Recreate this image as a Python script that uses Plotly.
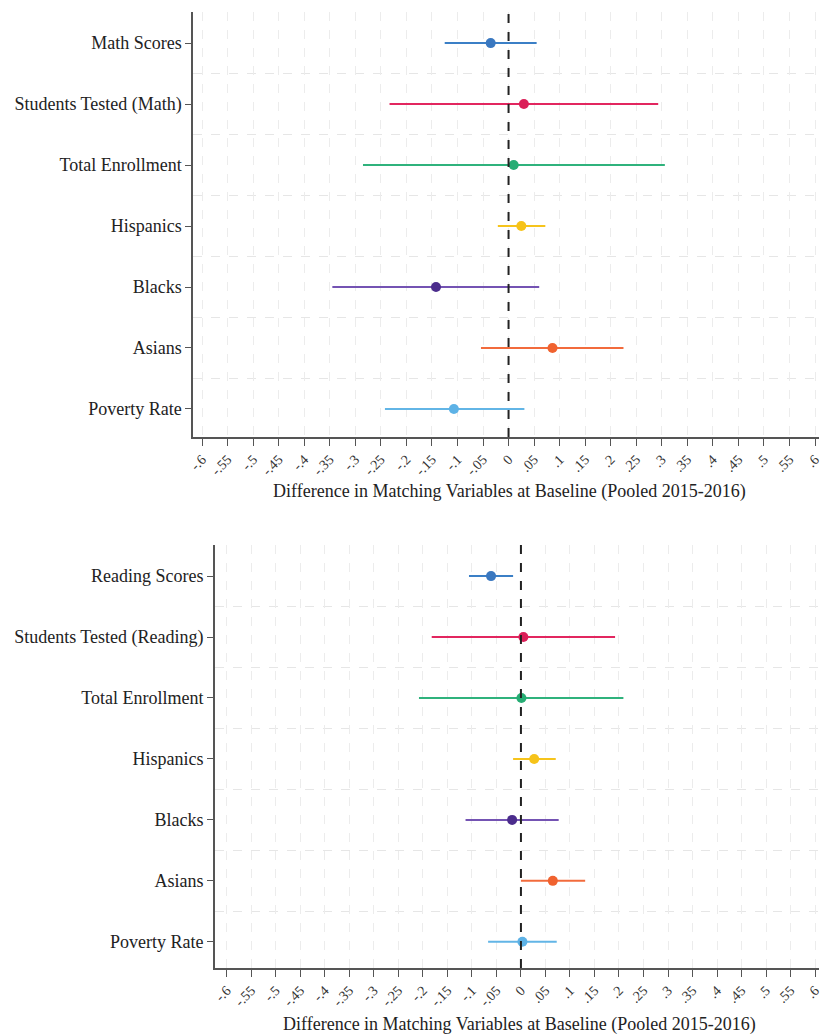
import plotly.graph_objects as go

# Matching-variable balance at baseline (pooled 2015-2016): point estimate and 95% CI
math_labels = ["Math Scores", "Students Tested (Math)", "Total Enrollment",
               "Hispanics", "Blacks", "Asians", "Poverty Rate"]
math_est = [-0.035, 0.030, 0.010, 0.025, -0.142, 0.086, -0.107]
math_lo = [-0.125, -0.233, -0.285, -0.021, -0.345, -0.054, -0.242]
math_hi = [0.055, 0.293, 0.306, 0.072, 0.060, 0.225, 0.031]

read_labels = ["Reading Scores", "Students Tested (Reading)", "Total Enrollment",
               "Hispanics", "Blacks", "Asians", "Poverty Rate"]
read_est = [-0.061, 0.005, 0.001, 0.027, -0.018, 0.065, 0.003]
read_lo = [-0.106, -0.182, -0.208, -0.016, -0.113, 0.000, -0.067]
read_hi = [-0.016, 0.192, 0.209, 0.071, 0.077, 0.131, 0.073]

x_ticks = [round(-0.6 + 0.05 * i, 2) for i in range(25)]
x_ticktext = ["-.6", "-.55", "-.5", "-.45", "-.4", "-.35", "-.3", "-.25", "-.2", "-.15",
              "-.1", "-.05", "0", ".05", ".1", ".15", ".2", ".25", ".3", ".35", ".4",
              ".45", ".5", ".55", ".6"]
axis_title = "Difference in Matching Variables at Baseline (Pooled 2015-2016)"

line_colors = ["#3b7fc6", "#e2265f", "#2fb27c", "#f6c41c", "#7453b3", "#f26b3c", "#62b5e6"]
dot_colors = ["#3a78c0", "#db1f58", "#26ad74", "#f6c31a", "#4b2c8c", "#f0622f", "#5db2e6"]

W, H = 822, 1034
FONT = "Liberation Serif"

fig = go.Figure()


def add_panel(labels, est, lo, hi, xa, ya):
    for i in range(len(labels)):
        fig.add_trace(go.Scatter(x=[lo[i], hi[i]], y=[i, i], mode="lines",
                                 line=dict(color=line_colors[i], width=2),
                                 xaxis=xa, yaxis=ya, showlegend=False, hoverinfo="skip"))
    for i in range(len(labels)):
        fig.add_trace(go.Scatter(x=[est[i]], y=[i], mode="markers",
                                 marker=dict(color=dot_colors[i], size=10),
                                 xaxis=xa, yaxis=ya, showlegend=False))


add_panel(math_labels, math_est, math_lo, math_hi, "x", "y")
add_panel(read_labels, read_est, read_lo, read_hi, "x2", "y2")


def px_y(p):
    return 1 - p / H


def xaxis_cfg(left_px, rng, anchor):
    return dict(domain=[left_px / W, 1.0], range=rng, anchor=anchor,
                tickvals=x_ticks, ticktext=x_ticktext, tickangle=-45,
                tickfont=dict(family=FONT, size=14, color="#333"),
                ticklabeloverflow="allow",
                ticks="outside", ticklen=7, tickcolor="#555", tickwidth=1,
                showline=True, linecolor="#555", linewidth=1.5,
                showgrid=True, gridcolor="#ececec", griddash="dash", gridwidth=1,
                zeroline=False, fixedrange=True)


def yaxis_cfg(top_px, bot_px, rng, labels, anchor):
    n = len(labels)
    return dict(domain=[px_y(bot_px), px_y(top_px)], range=rng, anchor=anchor,
                tickvals=list(range(n)), ticktext=labels,
                tickfont=dict(family=FONT, size=18, color="#222"),
                ticks="outside", ticklen=6, tickcolor="#555", tickwidth=1,
                showline=True, linecolor="#555", linewidth=1.5,
                showgrid=False, zeroline=False,
                minor=dict(tickvals=[k + 0.5 for k in range(-1, n)], showgrid=True,
                           gridcolor="#e6e6e6", griddash="dash", gridwidth=1, ticks=""),
                fixedrange=True)


fig.update_layout(
    width=W, height=H, margin=dict(l=0, r=0, t=0, b=0),
    paper_bgcolor="white", plot_bgcolor="white",
    xaxis=xaxis_cfg(190, [-0.6175, 0.6078], "y"),
    yaxis=yaxis_cfg(12, 437, [6.46, -0.51], math_labels, "x"),
    xaxis2=xaxis_cfg(212, [-0.6242, 0.608], "y2"),
    yaxis2=yaxis_cfg(545, 968, [6.43, -0.51], read_labels, "x2"),
)

# reference line at zero difference
for xr, yr in [("x", "y domain"), ("x2", "y2 domain")]:
    fig.add_shape(type="line", xref=xr, yref=yr, x0=0, x1=0, y0=0, y1=1,
                  line=dict(color="#222", width=2, dash="dash"))

fig.add_annotation(text=axis_title, xref="paper", yref="paper", x=509 / W, y=px_y(491),
                   yanchor="middle", showarrow=False,
                   font=dict(family=FONT, size=18, color="#222"))
fig.add_annotation(text=axis_title, xref="paper", yref="paper", x=520 / W, y=px_y(1024),
                   yanchor="middle", showarrow=False,
                   font=dict(family=FONT, size=18, color="#222"))

fig.write_html("out.html")
